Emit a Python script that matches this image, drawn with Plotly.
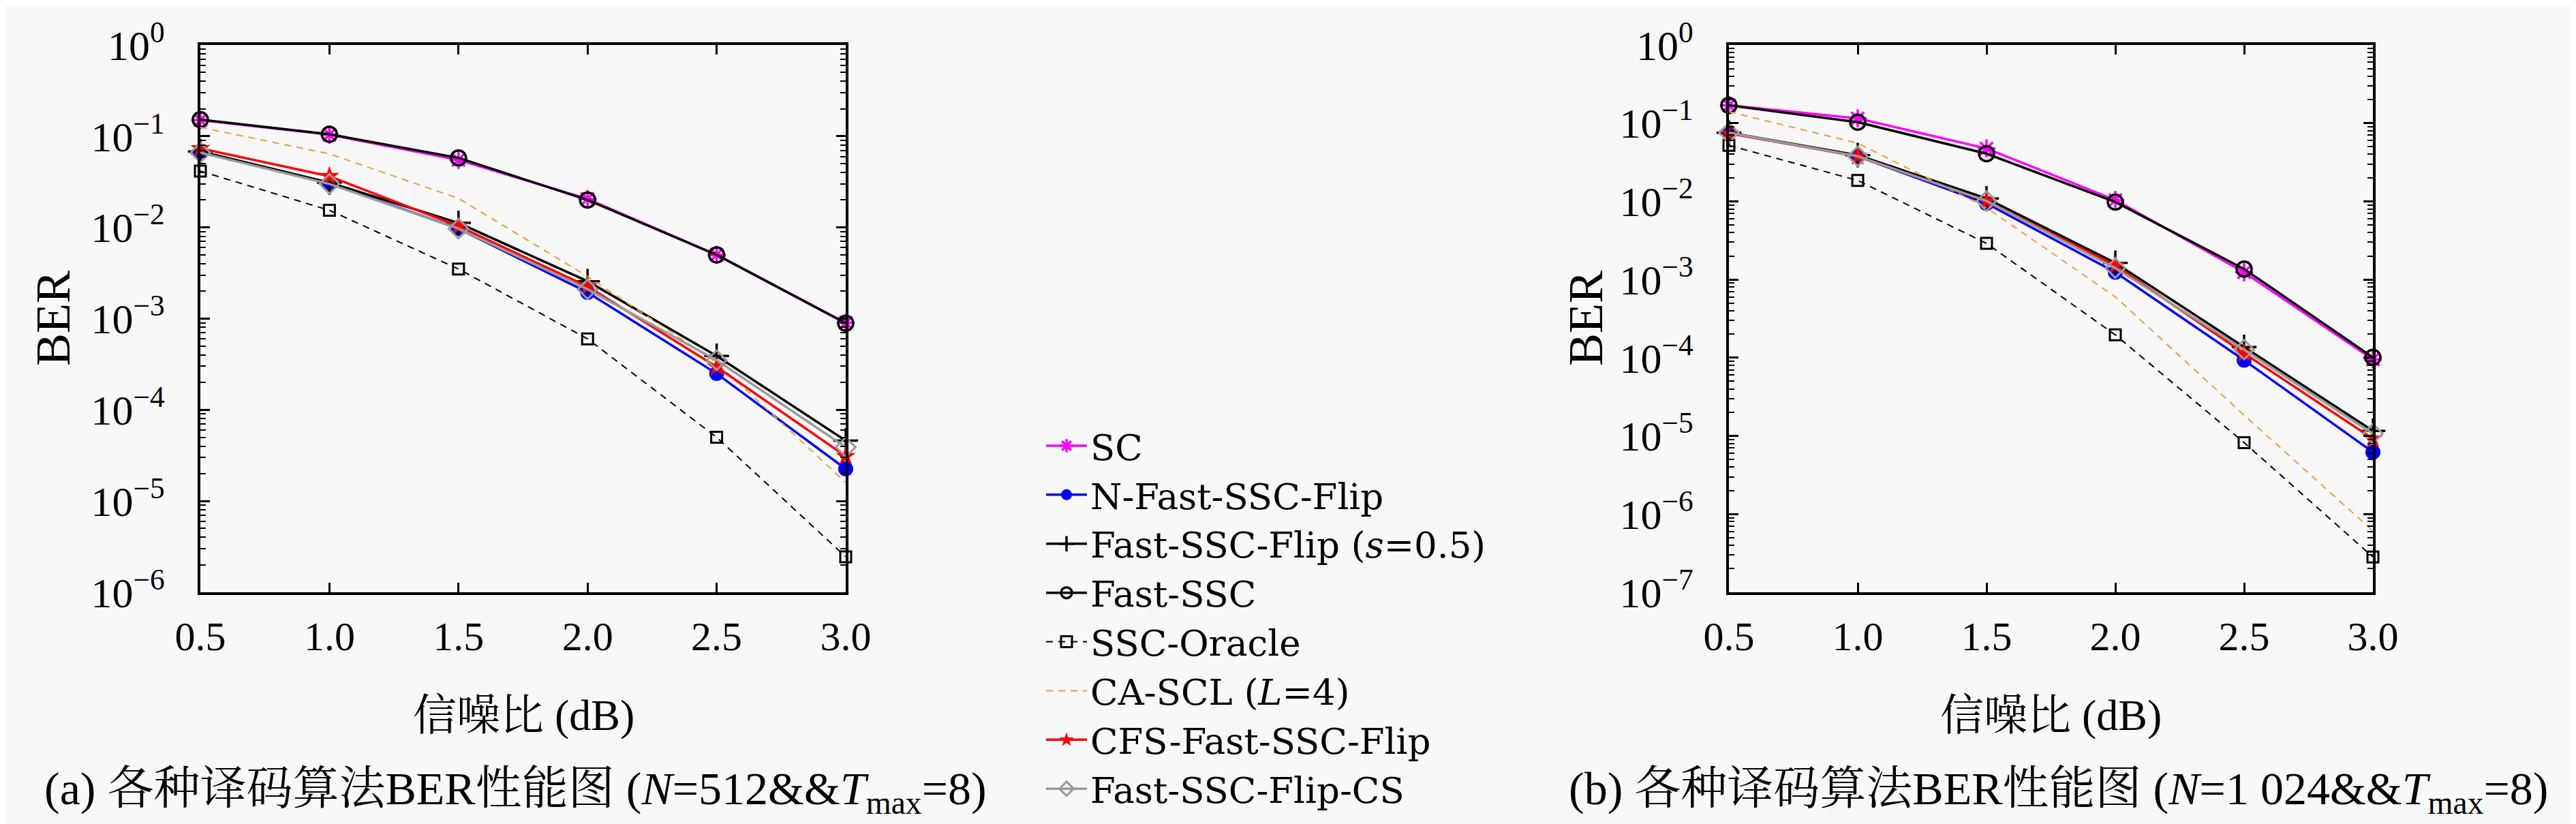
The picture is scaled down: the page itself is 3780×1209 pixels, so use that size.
import plotly.graph_objects as go

# ==== data (BER vs SNR) ====
snr = [0.5, 1.0, 1.5, 2.0, 2.5, 3.0]
snr_labels = ["0.5", "1.0", "1.5", "2.0", "2.5", "3.0"]

# (a) N=512
sc_512 = [0.15, 0.104, 0.055, 0.0205, 0.0050, 9.0e-4]
nflip_512 = [0.0678, 0.0306, 0.0097, 0.00194, 2.5e-4, 2.25e-5]
flip_s_512 = [0.068, 0.031, 0.0112, 0.00257, 3.9e-4, 4.6e-5]
fastssc_512 = [0.152, 0.105, 0.0578, 0.020, 0.0050, 8.9e-4]
oracle_512 = [0.0415, 0.0154, 0.0035, 6.0e-4, 5.0e-5, 2.45e-6]
cascl_512 = [0.125, 0.064, 0.0208, 0.0029, 3.3e-4, 1.6e-5]
cfs_512 = [0.0734, 0.0364, 0.0103, 0.00225, 2.96e-4, 3.1e-5]
cs_512 = [0.066, 0.030, 0.0097, 0.0021, 3.5e-4, 3.9e-5]

# (b) N=1024
sc_1024 = [0.169, 0.115, 0.0475, 0.0104, 1.24e-3, 9.5e-5]
nflip_1024 = [0.0756, 0.0377, 0.0094, 1.24e-3, 9.3e-5, 6.2e-6]
flip_s_1024 = [0.0756, 0.039, 0.0109, 1.63e-3, 1.37e-4, 1.16e-5]
fastssc_1024 = [0.169, 0.103, 0.0407, 0.0098, 1.36e-3, 1.01e-4]
oracle_1024 = [0.052, 0.0185, 0.0029, 1.96e-4, 8.2e-6, 2.83e-7]
cascl_1024 = [0.14, 0.0555, 0.0083, 6.0e-4, 1.84e-5, 6.1e-7]
cfs_1024 = [0.074, 0.0377, 0.0101, 1.51e-3, 1.14e-4, 9.2e-6]
cs_1024 = [0.0756, 0.0377, 0.0101, 1.40e-3, 1.27e-4, 1.07e-5]

names = ["SC", "N-Fast-SSC-Flip", "Fast-SSC-Flip (<i>s</i>=0.5)", "Fast-SSC",
         "SSC-Oracle", "CA-SCL (<i>L</i>=4)", "CFS-Fast-SSC-Flip", "Fast-SSC-Flip-CS"]
data_512 = [sc_512, nflip_512, flip_s_512, fastssc_512, oracle_512, cascl_512, cfs_512, cs_512]
data_1024 = [sc_1024, nflip_1024, flip_s_1024, fastssc_1024, oracle_1024, cascl_1024, cfs_1024, cs_1024]

styles = [
    dict(color="#ff00ff", width=3.5, dash="solid", symbol="asterisk", size=22, lw=3.5),
    dict(color="#0000ff", width=3.5, dash="solid", symbol="circle", size=22, lw=0),
    dict(color="#000000", width=3.5, dash="solid", symbol="cross-thin", size=26, lw=3.5),
    dict(color="#000000", width=3.5, dash="solid", symbol="circle-open", size=22, lw=3.5),
    dict(color="#000000", width=2, dash="10px,8px", symbol="square-open", size=16, lw=3),
    dict(color="#eda13a", width=2, dash="10px,8px", symbol=None, size=0, lw=0),
    dict(color="#ff0000", width=3.5, dash="solid", symbol="star", size=22, lw=0),
    dict(color="#9a9a9a", width=3.5, dash="solid", symbol="diamond-open", size=22, lw=3),
]

FONT = "Liberation Serif, Noto Serif CJK SC, Noto Sans CJK SC, serif"
LEGFONT = "DejaVu Serif, Liberation Serif, serif"
BG = "#f8f8f8"

fig = go.Figure()

for k, (dataset, xa, ya) in enumerate([(data_512, "x", "y"), (data_1024, "x2", "y2")]):
    for name, vals, st in zip(names, dataset, styles):
        mode = "lines" if st["symbol"] is None else "lines+markers"
        marker = None
        if st["symbol"] is not None:
            marker = dict(symbol=st["symbol"], size=st["size"], color=st["color"],
                          line=dict(color=st["color"], width=st["lw"]))
        fig.add_trace(go.Scatter(
            x=snr, y=vals, name=name, mode=mode, xaxis=xa, yaxis=ya,
            line=dict(color=st["color"], width=st["width"], dash=st["dash"]),
            marker=marker, cliponaxis=False, showlegend=(k == 0),
        ))

W, H = 3780, 1209
yvals_a = [10.0 ** p for p in range(-6, 1)]
ytext_a = ["10<sup>%s</sup>" % (("\u2212%d" % -p) if p < 0 else "0") for p in range(-6, 1)]
yvals_b = [10.0 ** p for p in range(-7, 1)]
ytext_b = ["10<sup>%s</sup>" % (("\u2212%d" % -p) if p < 0 else "0") for p in range(-7, 1)]

xcommon = dict(range=[0.5, 3.0], tickmode="array", tickvals=snr, ticktext=snr_labels,
               ticks="inside", ticklen=14, tickwidth=3, tickcolor="black",
               showline=True, linewidth=4, linecolor="black", mirror="ticks",
               showgrid=False, zeroline=False, ticklabelstandoff=9,
               tickfont=dict(family=FONT, size=60, color="black"))
ycommon = dict(type="log", tickmode="array",
               ticks="inside", ticklen=14, tickwidth=3, tickcolor="black",
               showline=True, linewidth=4, linecolor="black", mirror="ticks",
               showgrid=False, zeroline=False, ticklabelstandoff=36,
               minor=dict(ticks="inside", ticklen=8, tickwidth=2, tickcolor="black", dtick="D1", showgrid=False),
               tickfont=dict(family=FONT, size=62, color="black"))

ydom = [1 - 861 / H, 1 - 58 / H]
fig.update_layout(
    width=W, height=H, autosize=False,
    margin=dict(l=0, r=0, t=0, b=0, autoexpand=False),
    paper_bgcolor=BG, plot_bgcolor=BG,
    font=dict(family=FONT, color="black"),
    xaxis=dict(domain=[286 / W, 1233 / W], anchor="y", **xcommon),
    yaxis=dict(domain=ydom, anchor="x", range=[-6, 0], tickvals=yvals_a, ticktext=ytext_a, **ycommon),
    xaxis2=dict(domain=[2529 / W, 3474 / W], anchor="y2", **xcommon),
    yaxis2=dict(domain=ydom, anchor="x2", range=[-7, 0], tickvals=yvals_b, ticktext=ytext_b, **ycommon),
    legend=dict(x=1522 / W, y=1 - 605 / H, xanchor="left", yanchor="top",
                bgcolor="rgba(0,0,0,0)", borderwidth=0,
                font=dict(family=LEGFONT, size=53, color="black"), itemwidth=60),
)

# ==== axis titles and captions ====
ann = [
    dict(x=760 / W, y=1 - 1041 / H, text="信噪比 (dB)", size=64, angle=0),
    dict(x=3001 / W, y=1 - 1041 / H, text="信噪比 (dB)", size=64, angle=0),
    dict(x=70 / W, y=1 - 459 / H, text="BER", size=72, angle=-90),
    dict(x=2319 / W, y=1 - 459 / H, text="BER", size=72, angle=-90),
    dict(x=748 / W, y=1 - 1153 / H,
         text="(a) 各种译码算法BER性能图 (<i>N</i>=512&amp;&amp;<i>T</i><sub>max</sub>=8)", size=68, angle=0),
    dict(x=3012 / W, y=1 - 1153 / H,
         text="(b) 各种译码算法BER性能图 (<i>N</i>=1 024&amp;&amp;<i>T</i><sub>max</sub>=8)", size=68, angle=0),
]
for a in ann:
    fig.add_annotation(x=a["x"], y=a["y"], xref="paper", yref="paper", text=a["text"],
                       showarrow=False, textangle=a["angle"], xanchor="center", yanchor="middle",
                       font=dict(family=FONT, size=a["size"], color="black"))

fig.write_html("out.html")
